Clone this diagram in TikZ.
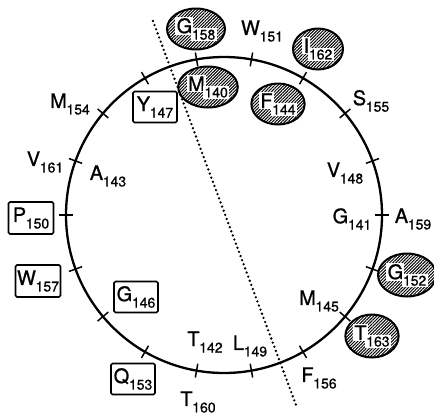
\documentclass[tikz,border=0pt]{standalone}
\usepackage{fontspec}
\setmainfont{TeX Gyre Heros}
\newfontfamily\lab{TeX Gyre Heros}[FakeBold=0.9]
\usetikzlibrary{shapes.geometric,patterns.meta,calc}
\newcommand{\rs}[2]{{\lab\fontsize{20}{20}\selectfont #1}\kern-0.3pt\raisebox{-6.5pt}{\lab\fontsize{14}{14}\selectfont #2}}
\newcommand{\hr}[2]{\setlength{\fboxsep}{1.2pt}\colorbox{white}{\lab\fontsize{20}{20}\selectfont #1}\kern-2.7pt\raisebox{-6.5pt}{\colorbox{white}{\lab\fontsize{14}{14}\selectfont #2}}}
\tikzset{
  res/.style={inner sep=0pt},
  boxres/.style={draw, line width=1.7pt, rounded corners=1.5pt, minimum width=44pt, minimum height=31pt, inner sep=0pt},
  hatch/.style={ellipse, draw, line width=2pt, minimum width=50pt, minimum height=41pt, inner sep=0pt,
    pattern={Lines[angle=45,distance=2.2pt,line width=1pt]}},
  wheel/.style={line width=2.3pt},
  tickmark/.style={line width=1.5pt},
  divider/.style={line width=2.6pt, line cap=round, dash pattern=on 0pt off 4.4pt}
}
\begin{document}
\begin{tikzpicture}[x=1pt,y=-1pt]
\useasboundingbox (0,0) rectangle (434,416);
\coordinate (C) at (224,215);
\draw[wheel] (C) circle[radius=158pt];
\foreach \a in {0,20,...,340}{
  \draw[tickmark] ($(C)+(\a:151)$) -- ($(C)+(\a:165)$);
}
\coordinate (d1) at (153,21);
\coordinate (d2) at (296,405);
\draw[divider] (d1) -- (d2);
% hatched residues
\node[hatch] (G158) at (196,29) {\hr{G}{158}};
\node[hatch] (I162) at (318,49) {\hr{I}{162}};
\node[hatch] (M140) at (208,87) {\hr{M}{140}};
\node[hatch] (F144) at (278,104) {\hr{F}{144}};
\node[hatch, minimum width=51pt, minimum height=43pt] (G152) at (407,275) {\hr{G}{152}};
\node[hatch, minimum width=51pt, minimum height=43pt] (T163) at (372,336) {\hr{T}{163}};
% boxed residues
\node[boxres] (Y147) at (155,107) {\rs{Y}{147}};
\node[boxres, minimum width=45pt, minimum height=32pt] (P150) at (31,218) {\rs{P}{150}};
\node[boxres, minimum width=45pt, minimum height=32pt] (W157) at (38,281) {\rs{W}{157}};
\node[boxres] (G146) at (136,297) {\rs{G}{146}};
\node[boxres] (Q153) at (133,379) {\rs{Q}{153}};
% plain residues
\node[res] (W151) at (262,31) {\rs{W}{151}};
\node[res] (S155) at (371,101) {\rs{S}{155}};
\node[res] (M154) at (70,104) {\rs{M}{154}};
\node[res] (V161) at (45,162) {\rs{V}{161}};
\node[res] (A143) at (108,176) {\rs{A}{143}};
\node[res] (V148) at (345,173) {\rs{V}{148}};
\node[res] (G141) at (352,219) {\rs{G}{141}};
\node[res] (A159) at (413,219) {\rs{A}{159}};
\node[res] (T142) at (205,342) {\rs{T}{142}};
\node[res] (T160) at (198,402) {\rs{T}{160}};
\node[res] (M145) at (319,301) {\rs{M}{145}};
\node[res] (L149) at (250,346) {\rs{L}{149}};
\node[res] (F156) at (319,378) {\rs{F}{156}};
\end{tikzpicture}
\end{document}
